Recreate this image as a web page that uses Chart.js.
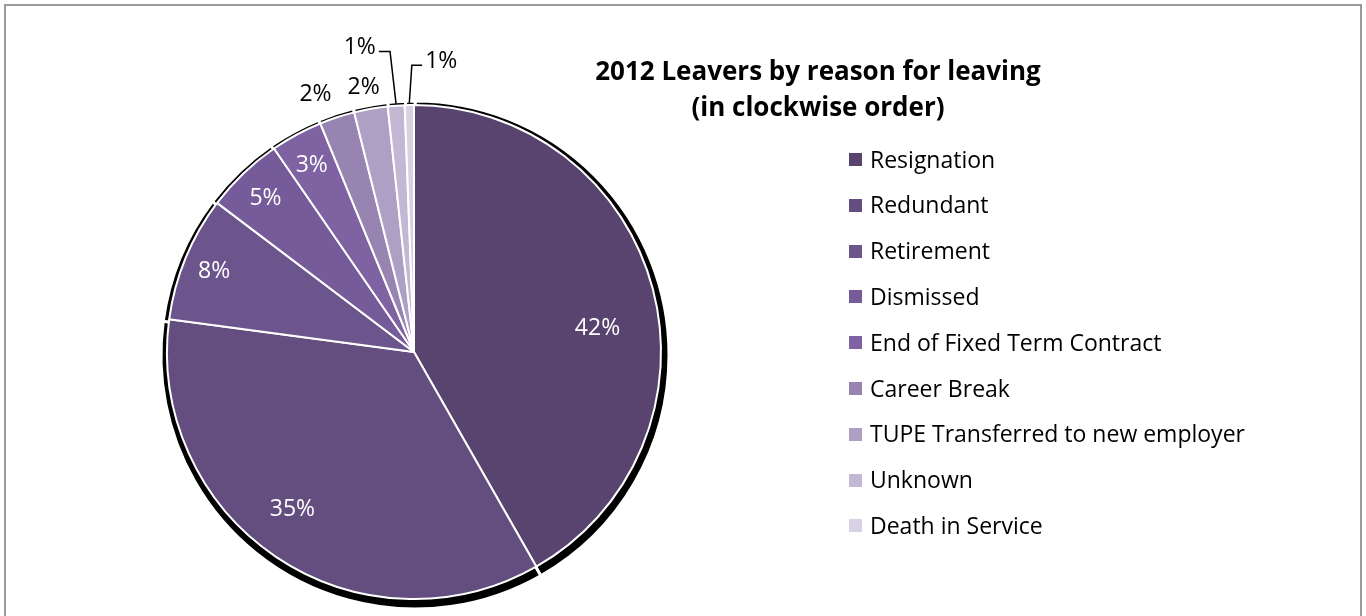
<!DOCTYPE html>
<html>
<head>
<meta charset="utf-8">
<title>2012 Leavers by reason for leaving</title>
<script src="https://cdn.jsdelivr.net/npm/chart.js@4.4.0/dist/chart.umd.min.js"></script>
<style>
  html, body { margin: 0; padding: 0; background: #fff; overflow: hidden; }
  #frame { position: absolute; left: 4px; top: 4px; width: 1354px; height: 700px; border: 2px solid #9a9a9a; }
  #wrap { position: absolute; left: 0; top: 0; width: 1366px; height: 616px; }
</style>
</head>
<body>
<div id="frame"></div>
<div id="wrap"><canvas id="leavers"></canvas></div>
<script>
// Reasons for leaving, in clockwise order from 12 o'clock
const reasons = [
  'Resignation',
  'Redundant',
  'Retirement',
  'Dismissed',
  'End of Fixed Term Contract',
  'Career Break',
  'TUPE Transferred to new employer',
  'Unknown',
  'Death in Service'
];

// Share of 2012 leavers (%)
const leaverShare = [41.8, 35.4, 8.2, 5.1, 3.4, 2.3, 2.2, 1.1, 0.6];

const sliceColours = [
  '#58446F', '#634E7F', '#6C558D', '#755B99', '#7F62A1',
  '#9884B1', '#AEA0C5', '#C2B8D4', '#D7D1E3'
];

const titleLines = ['2012 Leavers by reason for leaving', '(in clockwise order)'];

const FONT = '"Open Sans", "Liberation Sans", sans-serif';

// Where each percentage label sits: k = fraction of the radius,
// da = angular nudge from the slice middle (degrees)
const labelPlacement = [
  { k: 0.75, da: 7, colour: '#fff' },
  { k: 0.80, da: 4, colour: '#fff' },
  { k: 0.875, da: 0, colour: '#fff' },
  { k: 0.87, da: 0, colour: '#fff' },
  { k: 0.87, da: 0, colour: '#fff' },
  { k: 1.125, da: -2.6, colour: '#000' },
  { k: 1.10, da: -0.6, colour: '#000' },
  { k: 1.26, da: -5.9, colour: '#000', leader: 'right', elbow: -6 },
  { k: 1.19, da: 6.4, colour: '#000', leader: 'left', elbow: 2.5 }
];

// Black drop shadow behind each slice
const sliceShadow = {
  id: 'sliceShadow',
  beforeDatasetsDraw(chart) {
    const ctx = chart.ctx;
    const meta = chart.getDatasetMeta(0);
    ctx.save();
    meta.data.forEach(arc => {
      const p = arc.getProps(['x', 'y', 'startAngle', 'endAngle', 'outerRadius'], true);
      const cx = p.x + 1, cy = p.y + 3, R = p.outerRadius + 7;
      ctx.beginPath();
      ctx.moveTo(cx, cy);
      ctx.arc(cx, cy, R, p.startAngle, p.endAngle);
      ctx.closePath();
      ctx.fillStyle = '#000';
      ctx.fill();
      ctx.lineWidth = 3;
      ctx.strokeStyle = '#fff';
      ctx.stroke();
    });
    ctx.restore();
  }
};

// Percentage labels, with leader lines for the two thinnest slices
const sliceLabels = {
  id: 'sliceLabels',
  afterDatasetsDraw(chart) {
    const ctx = chart.ctx;
    const meta = chart.getDatasetMeta(0);
    const values = chart.data.datasets[0].data;
    const total = values.reduce((a, b) => a + b, 0);
    ctx.save();
    ctx.font = '23px ' + FONT;
    ctx.textAlign = 'center';
    ctx.textBaseline = 'middle';
    meta.data.forEach((arc, i) => {
      const p = arc.getProps(['x', 'y', 'startAngle', 'endAngle', 'outerRadius'], true);
      const place = labelPlacement[i];
      const mid = (p.startAngle + p.endAngle) / 2;
      const a = mid + place.da * Math.PI / 180;
      const lx = p.x + Math.cos(a) * p.outerRadius * place.k;
      const ly = p.y + Math.sin(a) * p.outerRadius * place.k + 2;
      const text = Math.round(values[i] / total * 100) + '%';
      ctx.fillStyle = place.colour;
      ctx.fillText(text, lx, ly);
      if (place.leader) {
        const w = ctx.measureText(text).width;
        const ex = p.x + Math.cos(mid) * (p.outerRadius + 2);
        const ey = p.y + Math.sin(mid) * (p.outerRadius + 2);
        const sx = place.leader === 'right' ? lx + w / 2 + 3 : lx - w / 2 - 3;
        const sy = ly + 4;
        ctx.beginPath();
        ctx.moveTo(sx, sy);
        ctx.lineTo(ex + place.elbow, sy);
        ctx.lineTo(ex, ey);
        ctx.lineWidth = 1.5;
        ctx.strokeStyle = '#000';
        ctx.stroke();
      }
    });
    ctx.restore();
  }
};

// Two-line title and the legend column on the right
const titleAndLegend = {
  id: 'titleAndLegend',
  afterDraw(chart) {
    const ctx = chart.ctx;
    ctx.save();
    ctx.fillStyle = '#000';
    ctx.textAlign = 'center';
    ctx.textBaseline = 'alphabetic';
    ctx.font = 'bold 26px ' + FONT;
    ctx.fillText(titleLines[0], 818, 80);
    ctx.fillText(titleLines[1], 818, 116);

    const colours = chart.data.datasets[0].backgroundColor;
    ctx.font = '23px ' + FONT;
    ctx.textAlign = 'left';
    chart.data.labels.forEach((lab, i) => {
      const cy = 159.5 + i * 45.8;
      ctx.fillStyle = colours[i];
      ctx.fillRect(849, Math.round(cy - 6.5), 13, 13);
      ctx.fillStyle = '#000';
      ctx.fillText(lab, 870, cy + 8);
    });
    ctx.restore();
  }
};

new Chart(document.getElementById('leavers'), {
  type: 'pie',
  data: {
    labels: reasons,
    datasets: [{
      data: leaverShare,
      backgroundColor: sliceColours,
      borderColor: '#ffffff',
      borderWidth: 2
    }]
  },
  options: {
    responsive: true,
    maintainAspectRatio: false,
    animation: false,
    layout: { padding: { left: 166, right: 704, top: 104, bottom: 16 } },
    plugins: {
      legend: { display: false },
      title: { display: false },
      tooltip: { enabled: false }
    }
  },
  plugins: [sliceShadow, sliceLabels, titleAndLegend]
});
</script>
</body>
</html>
